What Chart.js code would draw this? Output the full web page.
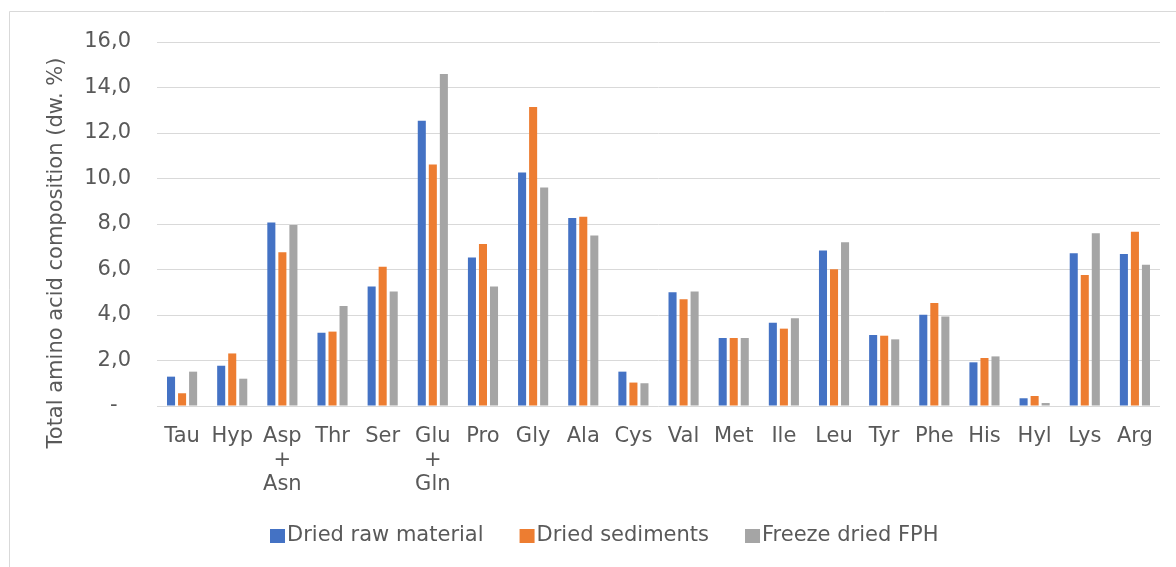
<!DOCTYPE html>
<html>
<head>
<meta charset="utf-8">
<script src="https://cdn.jsdelivr.net/npm/chart.js@4"></script>
<style>
  html, body { margin: 0; padding: 0; background: #ffffff; }
  #wrap { width: 1176px; height: 567px; position: relative; }
</style>
</head>
<body>
<div id="wrap"><canvas id="c" width="1176" height="567"></canvas></div>
<script>
const categories = ['Tau', 'Hyp', ['Asp', '+', 'Asn'], 'Thr', 'Ser', ['Glu', '+', 'Gln'], 'Pro', 'Gly', 'Ala', 'Cys',
  'Val', 'Met', 'Ile', 'Leu', 'Tyr', 'Phe', 'His', 'Hyl', 'Lys', 'Arg'];
const seriesNames = ['Dried raw material', 'Dried sediments', 'Freeze dried FPH'];
const driedRawMaterial = [1.29, 1.77, 8.07, 3.22, 5.25, 12.54, 6.53, 10.26, 8.26, 1.51, 5.00, 2.99, 3.66, 6.84, 3.12, 4.01, 1.92, 0.34, 6.71, 6.68];
const driedSediments   = [0.56, 2.31, 6.76, 3.27, 6.12, 10.62, 7.12, 13.14, 8.32, 1.03, 4.69, 2.99, 3.40, 6.01, 3.09, 4.53, 2.11, 0.44, 5.76, 7.66];
const freezeDriedFPH   = [1.51, 1.20, 7.96, 4.40, 5.03, 14.59, 5.25, 9.60, 7.50, 1.00, 5.03, 2.99, 3.86, 7.20, 2.93, 3.93, 2.18, 0.13, 7.59, 6.21];
const yTicks = [0, 2, 4, 6, 8, 10, 12, 14, 16];
const yTitle = 'Total amino acid composition (dw. %)';

const colors = ['#4472C4', '#ED7D31', '#A5A5A5'];
const textColor = '#595959';
const gridColor = '#d9d9d9';
const fontFamily = '"DejaVu Sans", Verdana, sans-serif';

// frame (top + left border), y title and legend drawn by a plugin
const decorPlugin = {
  id: 'decor',
  beforeDraw(chart) {
    const ctx = chart.ctx;
    ctx.save();
    ctx.strokeStyle = gridColor;
    ctx.lineWidth = 1;
    ctx.beginPath();
    ctx.moveTo(9.5, 567);
    ctx.lineTo(9.5, 11.5);
    ctx.lineTo(1176, 11.5);
    ctx.stroke();
    ctx.restore();
  },
  afterDraw(chart) {
    const ctx = chart.ctx;
    ctx.save();
    ctx.fillStyle = textColor;
    ctx.font = '21px ' + fontFamily;
    // y axis title
    ctx.save();
    ctx.translate(57, 253);
    ctx.rotate(-Math.PI / 2);
    ctx.textAlign = 'center';
    ctx.textBaseline = 'middle';
    ctx.fillText(yTitle, 0, 0);
    ctx.restore();
    // legend
    let x = 270;
    const yMid = 535;
    ctx.textAlign = 'left';
    ctx.textBaseline = 'middle';
    chart.data.datasets.forEach((ds) => {
      ctx.fillStyle = ds.backgroundColor;
      ctx.fillRect(x, yMid - 6, 15, 14);
      ctx.fillStyle = textColor;
      ctx.fillText(ds.label, x + 17, yMid + 1);
      x += 17 + ctx.measureText(ds.label).width + 36;
    });
    ctx.restore();
  }
};

new Chart(document.getElementById('c'), {
  type: 'bar',
  data: {
    labels: categories,
    datasets: [
      { label: seriesNames[0], data: driedRawMaterial, backgroundColor: colors[0] },
      { label: seriesNames[1], data: driedSediments, backgroundColor: colors[1] },
      { label: seriesNames[2], data: freezeDriedFPH, backgroundColor: colors[2] }
    ]
  },
  options: {
    responsive: false,
    animation: false,
    devicePixelRatio: 1,
    layout: { padding: { left: 20, right: 16, top: 42, bottom: 64 } },
    datasets: { bar: { categoryPercentage: 0.66, barPercentage: 0.73 } },
    plugins: {
      legend: { display: false },
      tooltip: { enabled: false }
    },
    scales: {
      x: {
        afterFit(scale) { scale.height = 97; },
        grid: { display: false },
        border: { display: false },
        ticks: {
          color: textColor,
          font: { family: fontFamily, size: 21, lineHeight: 1.143 },
          padding: 11,
          maxRotation: 0,
          autoSkip: false
        }
      },
      y: {
        min: 0,
        max: 16,
        afterBuildTicks(scale) { scale.ticks = yTicks.map(v => ({ value: v })); },
        afterFit(scale) { scale.width = 137; },
        grid: { color: gridColor, drawTicks: false, lineWidth: 1 },
        border: { display: false },
        ticks: {
          color: textColor,
          font: { family: fontFamily, size: 21 },
          padding: 26,
          callback: (v) => v === 0 ? '-  ' : v.toFixed(1).replace('.', ',')
        }
      }
    }
  },
  plugins: [decorPlugin]
});
</script>
</body>
</html>
